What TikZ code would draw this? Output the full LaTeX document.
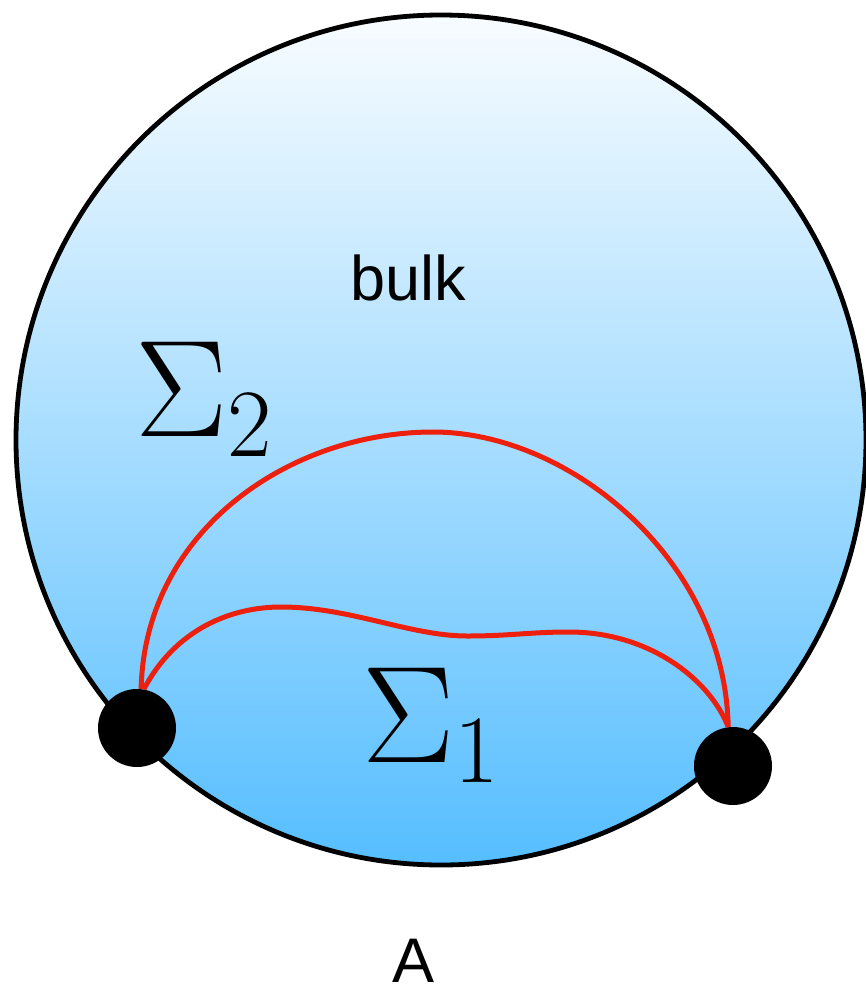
\RequirePackage{fix-cm}
\documentclass[tikz,border=0pt]{standalone}
\usepackage{fontspec}
\newfontfamily\labelfont{Liberation Sans}
\definecolor{bulktop}{RGB}{248,252,255}
\definecolor{bulkbot}{RGB}{86,190,255}
\definecolor{surfred}{RGB}{236,32,12}
\tikzset{
  dot/.style={circle,fill=black,inner sep=0pt,minimum size=39pt},
  surf/.style={draw=surfred,line width=2.5pt},
  sanslabel/.style={inner sep=0pt,font=\labelfont\fontsize{31.5}{36}\selectfont},
  mathlabel/.style={inner sep=0pt,font=\fontsize{69}{75}\selectfont}
}
\begin{document}
\begin{tikzpicture}[x=0.5pt,y=-0.5pt]
\useasboundingbox (0,0) rectangle (866,992);
% the bulk
\shade[top color=bulktop,bottom color=bulkbot,draw=black,line width=2.4pt]
  (441,440) circle (212.5pt);
\node[sanslabel,anchor=base] (bulk) at (408,300) {bulk};
% boundary points
\node[dot] (pl) at (137,728) {};
\node[dot] (pr) at (733,766) {};
% surfaces
\draw[surf] (pl.84) .. controls (145,530) and (290,432) .. (433,432)
  .. controls (570,432) and (725,560) .. (pr.97);
\draw[surf] (pl.80) .. controls (175,630) and (230,607) .. (281,607)
  .. controls (350,607) and (410,636) .. (467,636)
  .. controls (510,636) and (530,632) .. (569,632)
  .. controls (650,632) and (710,680) .. (pr.97);
\node[mathlabel,anchor=base west] (sig2) at (135,436) {$\Sigma_2$};
\node[mathlabel,anchor=base west] (sig1) at (362,762) {$\Sigma_1$};
\node[sanslabel,anchor=base] (bdy) at (414,982) {A};
\end{tikzpicture}
\end{document}
